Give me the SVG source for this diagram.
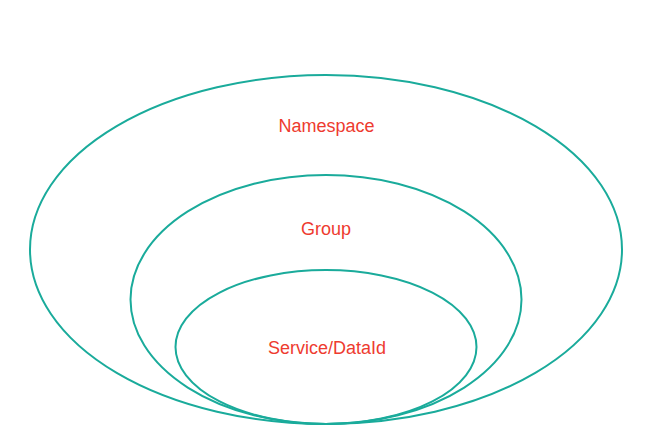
<svg xmlns="http://www.w3.org/2000/svg" width="659" height="440" viewBox="0 0 659 440">
<style>
.ring{fill:none;stroke:#1aab9b;stroke-width:2}
.lbl{font-family:"Liberation Sans",Arial,sans-serif;font-size:18px;fill:#ee3b2f;text-anchor:middle}
</style>
<rect width="659" height="440" fill="#ffffff"/>
<g id="namespace">
<ellipse class="ring" cx="326" cy="249.5" rx="296" ry="174.5"/>
<text class="lbl" x="326.5" y="132">Namespace</text>
</g>
<g id="group">
<ellipse class="ring" cx="326" cy="299.5" rx="195.5" ry="124.5"/>
<text class="lbl" x="326" y="235">Group</text>
</g>
<g id="service">
<ellipse class="ring" cx="326" cy="347" rx="150.5" ry="77"/>
<text class="lbl" x="327" y="354">Service/DataId</text>
</g>
<g id="connectors"/>
</svg>
